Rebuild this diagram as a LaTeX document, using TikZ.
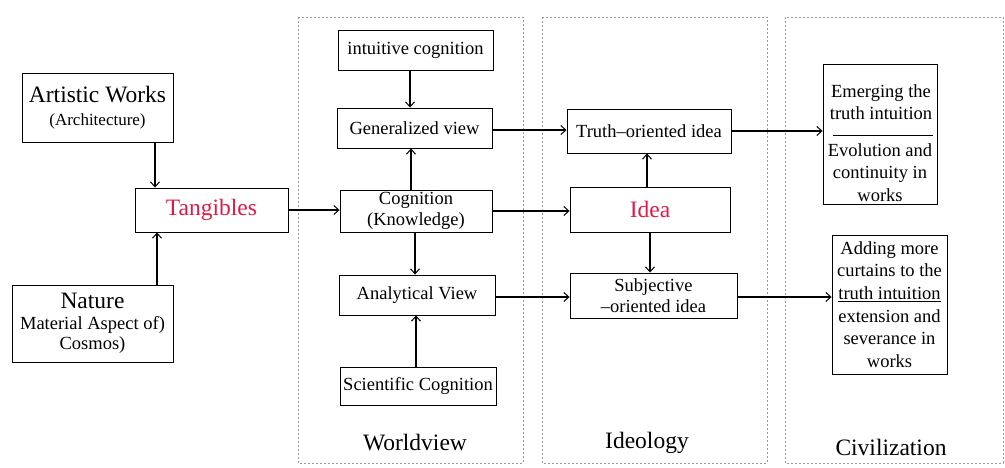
\documentclass[tikz,border=0pt]{standalone}
\usepackage{fontspec}
\setmainfont{Liberation Serif}
\usetikzlibrary{arrows.meta,calc}
\definecolor{redtxt}{RGB}{225,25,70}
\newcommand{\bigf}{\fontsize{23.5}{26}\selectfont}
\newcommand{\smf}{\fontsize{18.5}{22}\selectfont}
\tikzset{
  box/.style={draw, line width=0.9pt, inner sep=1pt, align=center, font=\smf},
  panel/.style={draw=gray!80, line width=0.8pt, dash pattern=on 2pt off 2pt},
  arr/.style={line width=1.2pt, -{Straight Barb[length=5pt,width=9pt,line width=1pt]}},
  lbl/.style={font=\bigf, inner sep=0pt}
}
\begin{document}
\begin{tikzpicture}[x=1pt,y=-1pt]
\useasboundingbox (0,0) rectangle (1005,467);
% panels
\draw[panel] (298,17) rectangle (523,463);
\draw[panel] (542,17) rectangle (767,463);
\draw[panel] (785,17) rectangle (1003,463);
\node[lbl] (wvl) at (415,443) {Worldview};
\node[lbl] (idl) at (647,443) {Ideology};
\node[lbl] (cvl) at (891,447) {Civilization};
% left nodes
\node[box, minimum width=151pt, minimum height=69pt] (art) at (97.5,107.5)
  {{\bigf Artistic Works}\\[1pt]{\fontsize{17}{20}\selectfont (Architecture)}};
\node[box, minimum width=161pt, minimum height=77pt, font=\fontsize{18.5}{20}\selectfont] (nat) at (92.5,323.5)
  {{\bigf Nature}\\[1pt]{Material Aspect of)}\\{Cosmos)}};
\node[box, minimum width=153pt, minimum height=44pt, font=\bigf, text=redtxt] (tang) at (211.5,210) {Tangibles};
% worldview
\node[box, minimum width=155pt, minimum height=40pt] (ic) at (415.5,50) {intuitive cognition};
\node[box, minimum width=155pt, minimum height=40pt] (gv) at (414.5,128) {Generalized view};
\node[box, minimum width=152pt, minimum height=42pt, font=\fontsize{18.5}{20.5}\selectfont] (cog) at (416,211) {Cognition\\(Knowledge)};
\node[box, minimum width=156pt, minimum height=40pt] (av) at (417,295) {Analytical View};
\node[box, minimum width=156pt, minimum height=38pt] (sc) at (418,386) {Scientific Cognition};
% ideology
\node[box, minimum width=164pt, minimum height=44pt] (truth) at (649,131) {Truth--oriented idea};
\node[box, minimum width=160pt, minimum height=45pt, font=\bigf, text=redtxt] (idea) at (650,209.5) {Idea};
\node[box, minimum width=167pt, minimum height=45pt, font=\fontsize{18.5}{21}\selectfont] (subj) at (653.5,295.5) {Subjective\\--oriented idea};
% civilization
\node[draw, line width=0.9pt, minimum width=114pt, minimum height=140pt] (emerg) at (880,134) {};
\node[align=center, font=\smf, inner sep=0pt] (emt) at ($(emerg.north)+(1,39)$) {Emerging the\\truth intuition};
\node[align=center, font=\fontsize{18.5}{22.5}\selectfont, inner sep=0pt] (evt) at ($(emerg.north)+(0,109)$) {Evolution and\\continuity in\\works};
\draw[line width=0.9pt] ($(emerg.north west)+(10,72)$) -- ($(emerg.north east)+(-4,72)$);
\node[box, minimum width=115pt, minimum height=139pt, font=\fontsize{18.5}{22.7}\selectfont] (add) at (889.5,304.5)
  {Adding more\\curtains to the\\\underline{truth intuition}\\extension and\\severance in\\works};
% connectors
\draw[arr] (art.south -| 155,0) -- (tang.north -| 155,0);
\draw[arr] (nat.north -| 157,0) -- (tang.south -| 157,0);
\draw[arr] (tang.east) -- (cog.west |- tang.east);
\draw[arr] (ic.south -| 410,0) -- (gv.north -| 410,0);
\draw[arr] (cog.north -| 411,0) -- (gv.south -| 411,0);
\draw[arr] (cog.south -| 415,0) -- (av.north -| 415,0);
\draw[arr] (sc.north -| 416,0) -- (av.south -| 416,0);
\draw[arr] (gv.east |- 0,130) -- (truth.west |- 0,130);
\draw[arr] (cog.east) -- (idea.west |- cog.east);
\draw[arr] (av.east |- 0,297) -- (subj.west |- 0,297);
\draw[arr] (idea.north -| 647,0) -- (truth.south -| 647,0);
\draw[arr] (idea.south -| 650,0) -- (subj.north -| 650,0);
\draw[arr] (truth.east |- 0,131) -- (emerg.west |- 0,131);
\draw[arr] (subj.east |- 0,297) -- (add.west |- 0,297);
\end{tikzpicture}
\end{document}
